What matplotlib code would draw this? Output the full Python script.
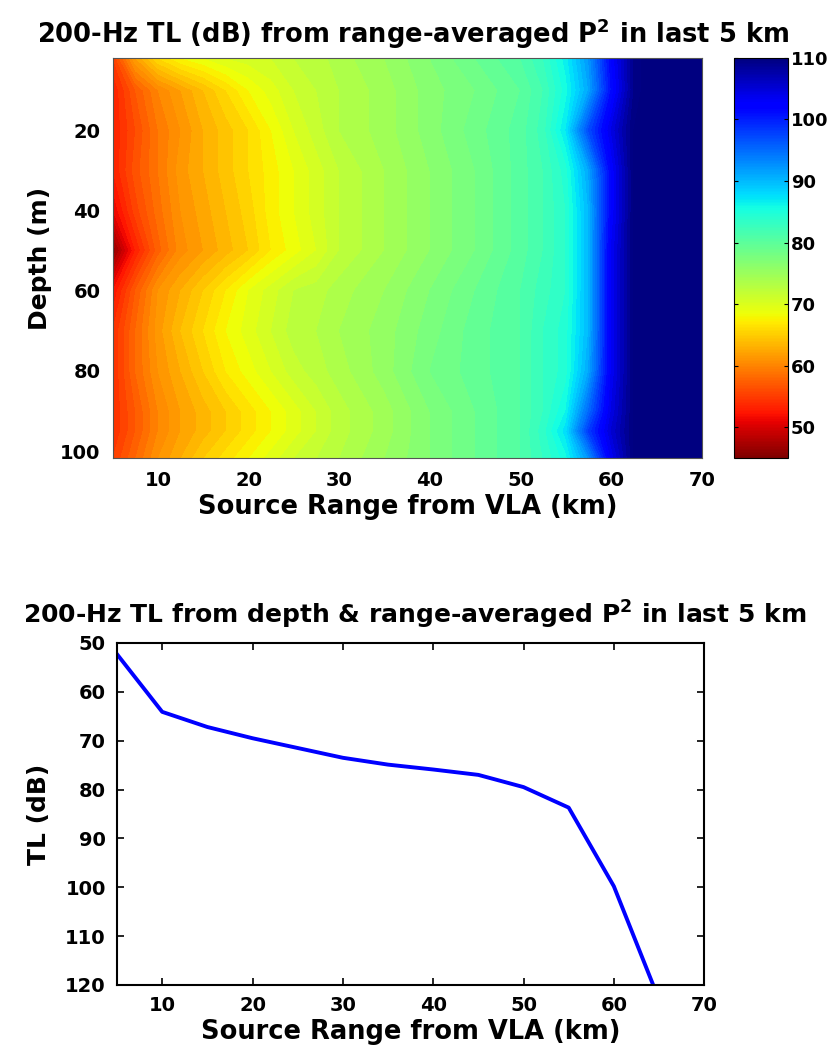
import numpy as np
import matplotlib
matplotlib.use("Agg")
import matplotlib.pyplot as plt
from matplotlib import cm, colors

plt.rcParams['font.family'] = ['DejaVu Sans']
plt.rcParams['font.weight'] = 'bold'
plt.rcParams['mathtext.fontset'] = 'custom'
plt.rcParams['mathtext.rm'] = 'DejaVu Sans:bold'
plt.rcParams['mathtext.bf'] = 'DejaVu Sans:bold'
plt.rcParams['mathtext.it'] = 'DejaVu Sans:bold'
plt.rcParams['mathtext.default'] = 'rm'

# range-depth TL field (dB), rows = depth, cols = range
ranges_km = [5, 7.5, 10, 12.5, 15, 17.5, 20, 22.5, 25, 27.5, 30, 35, 40, 45, 50, 52.5, 55, 57.5, 60, 62.5, 65, 70]
depths_m = [2, 10, 20, 30, 40, 50, 60, 70, 80, 90, 95, 102]
tl_field = [
    [55, 62, 66, 68, 69, 70, 70.5, 71, 72, 72.5, 73.5, 75, 77, 79, 81, 83, 86.5, 92, 102, 109, 112, 112],
    [53, 57, 60, 62, 64, 66, 68, 69.5, 71, 72, 73, 74.5, 76.5, 78, 80, 82, 85.5, 91, 101, 109, 112, 112],
    [53, 56, 59, 61, 63, 64.5, 66, 68, 70, 71.5, 73, 74.5, 76.5, 78.5, 80.5, 82.5, 87, 97, 104, 110, 112, 112],
    [53, 56.5, 59, 61.5, 63, 64.5, 66, 67.5, 69, 70.5, 72, 74, 76, 78, 80.5, 82, 84.5, 91, 102, 110, 112, 112],
    [51, 55.5, 58.5, 61, 62.5, 64, 65.5, 67.5, 69, 70.5, 72, 74, 76, 78, 80.5, 82, 84, 90, 102, 110, 112, 112],
    [46, 53, 57.5, 60.5, 62, 63.5, 65, 67, 68.5, 70, 72, 74, 76, 78, 80.5, 82, 84, 90, 103, 110, 112, 112],
    [52, 57, 61, 63, 65, 67, 69, 70.5, 72, 72.5, 73.5, 75, 77, 79, 81, 82.5, 84, 90, 103, 110, 112, 112],
    [54, 58, 61.5, 64, 66, 68, 69.5, 71, 72.5, 73, 74, 75.5, 77.5, 79.5, 81, 83, 84.5, 90, 103, 110, 112, 112],
    [54, 58, 61, 63, 65, 67, 68.5, 70, 71.5, 72.5, 73.5, 75.5, 78, 79.5, 81, 83, 84.5, 91, 103, 110, 112, 112],
    [54, 57, 60, 62, 63.5, 65, 66.5, 68, 69.5, 71, 72.5, 74.5, 77, 79, 81, 83, 86, 95, 104, 110, 112, 112],
    [54, 57, 60, 62, 63.5, 65, 66.5, 68, 69.5, 71, 72.5, 74.5, 77, 79, 81, 83.5, 87.5, 98, 105, 110, 112, 112],
    [55, 58, 61, 63, 65, 66.5, 68, 69.5, 71, 72, 73, 75, 77, 79, 81, 83, 85.5, 92, 103, 110, 112, 112],
]

# depth & range averaged TL
line_range = [5, 10, 15, 20, 25, 30, 35, 40, 45, 50, 55, 60, 65]
line_tl = [52.3, 64.1, 67.2, 69.5, 71.5, 73.5, 74.9, 75.9, 77.0, 79.5, 83.7, 99.8, 123]

cbar_ticks = [50, 60, 70, 80, 90, 100, 110]

fig = plt.figure(figsize=(8.27, 10.53), dpi=100)

# ---- top: filled contours ----
ax1 = fig.add_axes([0.1366, 0.565, 0.712, 0.380])
R, D = np.meshgrid(ranges_km, depths_m)
levels = np.linspace(45, 110, 66)
ax1.contourf(R, D, np.array(tl_field), levels=levels, cmap='jet_r', extend='both')
ax1.set_xlim(5, 70)
ax1.set_ylim(101.7, 2)
ax1.set_xticks([10, 20, 30, 40, 50, 60, 70])
ax1.set_yticks([20, 40, 60, 80, 100])
ax1.tick_params(length=0, labelsize=14, pad=9)
for s in ax1.spines.values():
    s.set_linewidth(0.8)
    s.set_color('#555555')
ax1.set_xlabel('Source Range from VLA (km)', fontsize=18.5, fontweight='bold', labelpad=3)
ax1.set_ylabel('Depth (m)', fontsize=18, fontweight='bold', labelpad=6)
fig.text(0.5, 0.968, '200-Hz TL (dB) from range-averaged P$^{2}$ in last 5 km',
         ha='center', va='center', fontsize=18.5, fontweight='bold')

cax = fig.add_axes([0.8876, 0.565, 0.0653, 0.380])
sm = cm.ScalarMappable(norm=colors.Normalize(45, 110), cmap='jet_r')
cb = fig.colorbar(sm, cax=cax, ticks=cbar_ticks)
cb.outline.set_linewidth(0.8)
cax.tick_params(labelsize=13, direction='in', length=3, left=True, right=True, pad=2)

# ---- bottom: averaged TL vs range ----
ax2 = fig.add_axes([0.1415, 0.0646, 0.710, 0.3248])
ax2.plot(line_range, line_tl, color='#0000ff', linewidth=2.8)
ax2.set_xlim(5, 70)
ax2.set_ylim(120, 50)
ax2.set_xticks([10, 20, 30, 40, 50, 60, 70])
ax2.set_yticks([50, 60, 70, 80, 90, 100, 110, 120])
ax2.tick_params(direction='in', length=5, width=1.2, top=True, right=True, labelsize=14, pad=8)
for s in ax2.spines.values():
    s.set_linewidth(1.5)
ax2.set_xlabel('Source Range from VLA (km)', fontsize=18.5, fontweight='bold', labelpad=3)
ax2.set_ylabel('TL (dB)', fontsize=18, fontweight='bold', labelpad=10)
fig.text(0.502, 0.416, '200-Hz TL from depth & range-averaged P$^{2}$ in last 5 km',
         ha='center', va='center', fontsize=18, fontweight='bold')

fig.savefig('out.png', dpi=100)
